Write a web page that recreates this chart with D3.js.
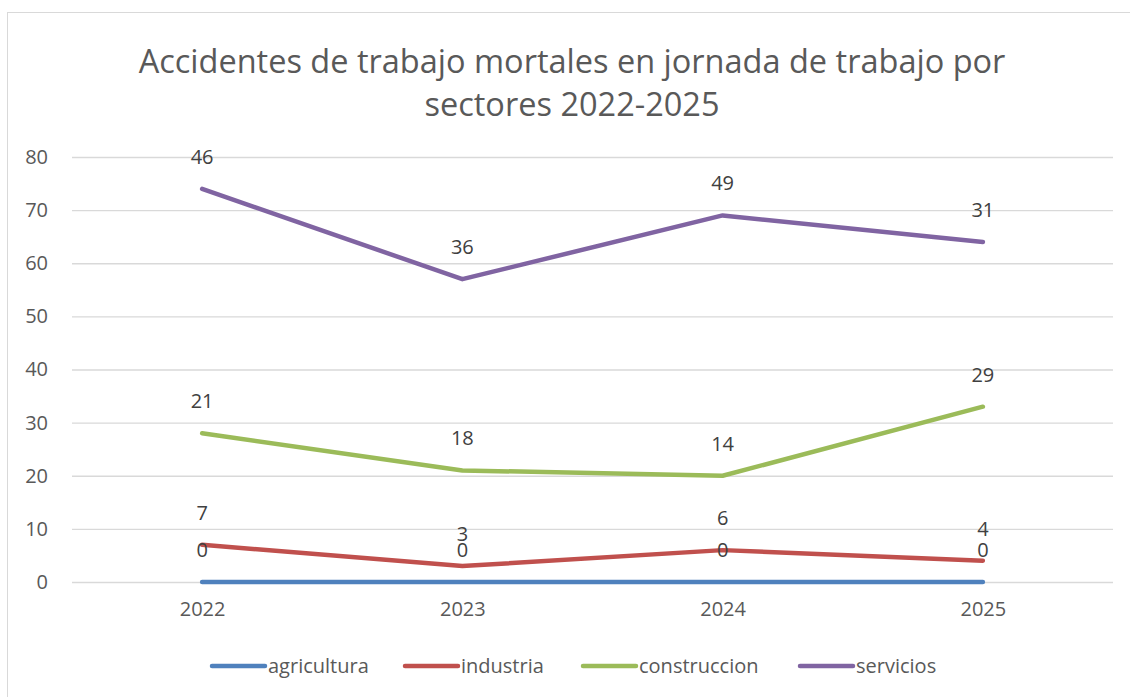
<!DOCTYPE html>
<html>
<head>
<meta charset="utf-8">
<script src="https://cdn.jsdelivr.net/npm/d3@7"></script>
<style>
  body { margin: 0; background: #fff; }
  svg { font-family: "Open Sans", "Noto Sans", sans-serif; }
  .tick text { fill: #595959; }
</style>
</head>
<body>
<div id="chart-container"></div>
<script>
// data (stacked line chart, labels show each sector's own value)
const years = ["2022", "2023", "2024", "2025"];
const sectors = ["agricultura", "industria", "construccion", "servicios"];
const agricultura = [0, 0, 0, 0];
const industria = [7, 3, 6, 4];
const construccion = [21, 18, 14, 29];
const servicios = [46, 36, 49, 31];
const yTicks = [0, 10, 20, 30, 40, 50, 60, 70, 80];
const colors = ["#4f81bd", "#c0504d", "#9bbb59", "#8064a2"];

const [W, H] = [1130, 697];
const plot = { left: 72, right: 1113, top: 157, bottom: 582 };

const svg = d3
  .select("#chart-container")
  .append("svg")
  .attr("width", W)
  .attr("height", H);

// chart frame
svg
  .append("rect")
  .attr("x", 7.5)
  .attr("y", 12.5)
  .attr("width", W + 20)
  .attr("height", H + 20)
  .attr("fill", "#fff")
  .attr("stroke", "#d9d9d9");

// title
const title = svg
  .append("text")
  .attr("text-anchor", "middle")
  .attr("fill", "#595959")
  .style("font-size", "32.5px");
title.append("tspan").attr("x", 572).attr("y", 73).text("Accidentes de trabajo mortales en jornada de trabajo por");
title.append("tspan").attr("x", 572).attr("y", 116).text("sectores 2022-2025");

// build table for stacking
const table = years.map((y, i) => ({
  year: y,
  agricultura: agricultura[i],
  industria: industria[i],
  construccion: construccion[i],
  servicios: servicios[i],
}));
const series = d3.stack().keys(sectors)(table);

// scales
const x = d3
  .scalePoint()
  .domain(years)
  .range([plot.left, plot.right])
  .padding(0.5);
const y = d3
  .scaleLinear()
  .domain([0, 80])
  .range([plot.bottom, plot.top]);

// y grid + labels
const yAxis = d3
  .axisLeft(y)
  .tickValues(yTicks)
  .tickSize(-(plot.right - plot.left))
  .tickPadding(24);
svg
  .append("g")
  .attr("transform", `translate(${plot.left}, 0)`)
  .call(yAxis)
  .call((g) => g.select(".domain").remove())
  .call((g) => g.selectAll(".tick line").attr("stroke", "#d9d9d9").attr("stroke-width", 1.3))
  .call((g) => g.selectAll(".tick text").style("font-size", "20px").attr("font-family", "Open Sans"));

// x axis labels
const xAxis = d3.axisBottom(x).tickSize(0).tickPadding(20);
svg
  .append("g")
  .attr("transform", `translate(0, ${plot.bottom})`)
  .call(xAxis)
  .call((g) => g.select(".domain").remove())
  .call((g) => g.selectAll(".tick text").style("font-size", "20px").attr("font-family", "Open Sans"));

// lines
const line = d3
  .line()
  .x((d) => x(d.data.year))
  .y((d) => y(d[1]));
svg
  .selectAll(".series")
  .data(series)
  .enter()
  .append("path")
  .attr("class", "series")
  .attr("d", line)
  .attr("fill", "none")
  .attr("stroke", (d, i) => colors[i])
  .attr("stroke-width", 4.5)
  .attr("stroke-linecap", "round")
  .attr("stroke-linejoin", "round");

// data labels
series.forEach((s) => {
  svg
    .append("g")
    .selectAll("text")
    .data(s)
    .enter()
    .append("text")
    .attr("x", (d) => x(d.data.year))
    .attr("y", (d) => y(d[1]) - 32)
    .attr("dy", "0.35em")
    .attr("text-anchor", "middle")
    .attr("fill", "#404040")
    .style("font-size", "20px")
    .text((d) => d.data[s.key]);
});

// legend
const legendX = [212, 405, 583, 800];
const legend = svg.append("g").attr("transform", "translate(0, 666)");
sectors.forEach((name, i) => {
  const l = legend.append("g").attr("transform", `translate(${legendX[i]}, 0)`);
  l.append("line")
    .attr("x1", 0)
    .attr("x2", 53)
    .attr("stroke", colors[i])
    .attr("stroke-width", 4.5)
    .attr("stroke-linecap", "round");
  l.append("text")
    .attr("x", 56)
    .attr("dy", "0.35em")
    .attr("fill", "#595959")
    .style("font-size", "20px")
    .text(name);
});
</script>
</body>
</html>
